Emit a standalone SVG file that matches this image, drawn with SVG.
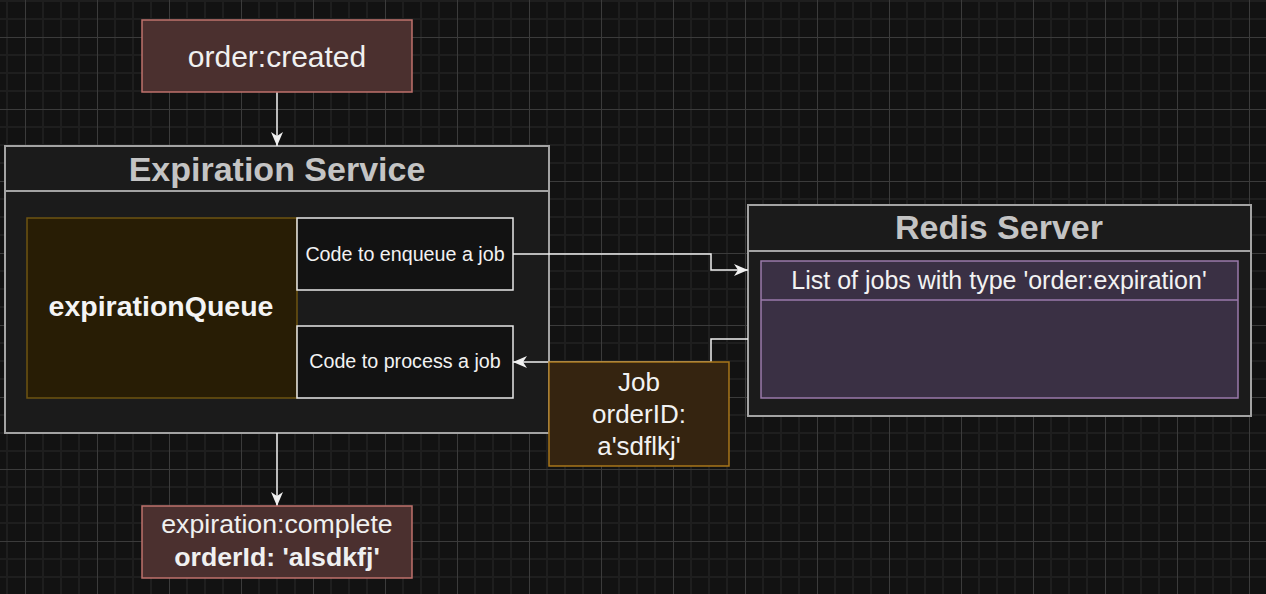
<svg xmlns="http://www.w3.org/2000/svg" width="1266" height="594" viewBox="0 0 1266 594">
<defs>
<pattern id="grid" patternUnits="userSpaceOnUse" x="25" y="37" width="72" height="72">
<rect x="0" y="0" width="72" height="72" fill="#121212"/>
<rect x="17" y="0" width="2" height="72" fill="#1e1e1e"/>
<rect x="35" y="0" width="2" height="72" fill="#1e1e1e"/>
<rect x="53" y="0" width="2" height="72" fill="#1e1e1e"/>
<rect x="0" y="17" width="72" height="2" fill="#1e1e1e"/>
<rect x="0" y="35" width="72" height="2" fill="#1e1e1e"/>
<rect x="0" y="53" width="72" height="2" fill="#1e1e1e"/>
<rect x="0" y="0" width="1" height="72" fill="#3b3b3b"/>
<rect x="0" y="0" width="72" height="1" fill="#3b3b3b"/>
</pattern>
<marker id="arr" markerUnits="userSpaceOnUse" viewBox="0 0 14 12" refX="14" refY="6" markerWidth="14" markerHeight="12" orient="auto">
<path d="M0,0 L14,6 L0,12 L4,6 z" fill="#f0f0f0"/>
</marker>
<style>
text{font-family:"Liberation Sans",Arial,Helvetica,sans-serif;text-anchor:middle;}
.event{fill:#4b302f;stroke:#bf716c;stroke-width:1.5;}
.evtxt{fill:#f0f0f0;}
.cont{fill:#1b1b1b;stroke:#a3a3a3;stroke-width:2;}
.title{fill:#c4c4c4;font-weight:bold;font-size:34px;}
.code{fill:#121212;stroke:#e8e8e8;stroke-width:1.5;}
.codetxt{fill:#f2f2f2;font-size:19.7px;}
.conn{fill:none;stroke:#f0f0f0;stroke-width:1.5;marker-end:url(#arr);}
</style>
</defs>
<rect x="0" y="0" width="1266" height="594" fill="url(#grid)"/>

<g id="expiration-service">
<rect class="cont" x="5" y="146" width="544" height="287"/>
<line x1="5" y1="191" x2="549" y2="191" stroke="#a3a3a3" stroke-width="2"/>
<text class="title" x="277" y="181">Expiration Service</text>
</g>

<g id="expiration-queue">
<rect x="27" y="218" width="270" height="180" fill="#281d05" stroke="#6e5412" stroke-width="1.5"/>
<text x="161" y="316" font-size="28.5" font-weight="bold" fill="#f4f4f4">expirationQueue</text>
</g>

<g id="enqueue-job">
<rect class="code" x="297" y="218" width="216" height="72"/>
<text class="codetxt" x="405" y="261">Code to enqueue a job</text>
</g>

<g id="process-job">
<rect class="code" x="297" y="326" width="216" height="72"/>
<text class="codetxt" x="405" y="368">Code to process a job</text>
</g>

<g id="redis-server">
<rect class="cont" x="748" y="205" width="503" height="211"/>
<line x1="748" y1="251" x2="1251" y2="251" stroke="#a3a3a3" stroke-width="2"/>
<text class="title" x="999" y="239">Redis Server</text>
</g>

<g id="job-list">
<rect x="761" y="261" width="477" height="137" fill="#3a3044" stroke="#9a79ab" stroke-width="1.5"/>
<line x1="761" y1="300" x2="1238" y2="300" stroke="#9a79ab" stroke-width="1.5"/>
<text x="999" y="289" font-size="25" fill="#f2f2f2">List of jobs with type 'order:expiration'</text>
</g>

<g id="connectors">
<path class="conn" d="M277,92 V146"/>
<path class="conn" d="M277,433 V506"/>
<path class="conn" d="M513,254 H711 V270 H748"/>
<path class="conn" d="M748,339 H711 V362 H513"/>
</g>

<g id="job-label">
<rect x="549" y="362" width="180" height="104" fill="#352410" stroke="#a8761a" stroke-width="1.5"/>
<text x="639" y="391" font-size="26" fill="#f2f2f2">Job</text>
<text x="639" y="423" font-size="26" fill="#f2f2f2">orderID:</text>
<text x="639" y="455" font-size="26" fill="#f2f2f2">a'sdflkj'</text>
</g>

<g id="order-created">
<rect class="event" x="142" y="20" width="270" height="72"/>
<text class="evtxt" x="277" y="67" font-size="30">order:created</text>
</g>

<g id="expiration-complete">
<rect class="event" x="142" y="506" width="270" height="72"/>
<text class="evtxt" x="277" y="533" font-size="26.7">expiration:complete</text>
<text class="evtxt" x="277" y="566" font-size="26.7" font-weight="bold">orderId: 'alsdkfj'</text>
</g>
</svg>
